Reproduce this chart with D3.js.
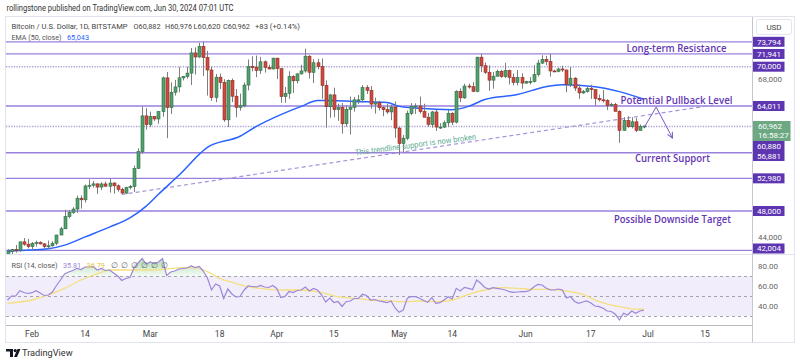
<!DOCTYPE html>
<html><head><meta charset="utf-8">
<script src="https://cdn.jsdelivr.net/npm/d3@7"></script>
<style>body{margin:0;background:#fff;} svg{display:block;font-family:Roboto,"Open Sans",sans-serif;}</style>
</head><body><svg id="c" width="800" height="364"></svg>
<script>
// ---------------- DATA ----------------
const firstDay = "2024-01-26", lastDay = "2024-07-01";
const opens = [39950,41820,42120,42030,43300,42940,
42580,43080,43190,42990,42580,42700,43090,44340,45290,47140,47770,48300,49950,49710,51820,51930,52140,51650,52130,51780,52270,51850,51300,50740,51570,51730,54490,57050,62500,
61170,62420,62030,63150,68300,63780,66100,66920,68300,68490,69020,72100,71480,73090,71390,69500,65300,68400,67600,61900,67900,65500,63800,64050,67200,70000,69950,69450,70750,69900,69650,
71300,69700,65450,65950,68500,67850,68900,69350,71600,69150,70600,70000,67150,63900,65700,63450,63800,61300,63500,63800,64950,64950,66800,66400,64300,64500,63750,63450,63100,63850,
60650,58300,59100,62900,63900,64000,63150,62300,61200,63100,60800,60800,61450,62900,61550,66250,65250,67050,66950,66250,71450,70150,69150,67950,68550,69300,68500,69400,68350,67600,68350,
67500,67750,67750,68800,70550,71100,70800,69350,69300,69650,69500,67300,68250,66750,66000,66200,66650,66500,65150,64950,64850,64100,64250,63200,60300,61800,60850,61600,60300,60882];
const highs = [42200,42200,42830,43310,43880,43740,
43280,43480,43380,43120,43500,43400,44380,45600,48200,48150,48590,50370,50380,52040,52820,52570,52180,52380,52490,52980,52380,52050,51550,51700,51960,54930,57550,63900,63680,
63150,62450,63250,68500,69200,67600,67980,69950,68600,69980,72850,72950,73660,73794,72400,70000,68900,68950,68100,68050,68200,66600,65900,67600,71100,71600,71700,71500,70950,70300,71350,
71350,69700,66900,69300,68700,69000,70300,72750,71750,71150,71200,71250,67900,65800,66800,64350,64450,64100,65450,65400,65700,67200,67200,67050,65300,64800,63950,64350,64200,64700,
60800,59600,63300,64450,64400,65450,64350,62950,63250,63400,61400,61800,63400,63050,66400,66700,67400,67400,67650,71500,71950,70650,70200,69200,69550,69500,70600,69550,68950,69500,69000,
67850,68400,70250,71050,71750,71650,71950,69550,69850,70150,69550,69950,68400,67300,66450,66950,67250,66550,65750,66450,65050,64500,64500,63350,62300,62450,62300,62200,61200,60976];
const lows = [39800,41400,41650,41800,42700,42300,
41880,42580,42880,42270,42260,42570,42790,44330,45250,46900,47560,47700,48370,49300,51340,51580,50620,51200,51700,50800,50650,50950,50520,50590,51300,50900,54450,56700,60400,
60800,61700,61300,62380,59100,62800,65600,66100,67900,68170,67200,68800,71350,68600,65600,64800,64580,66600,61600,60800,64600,62300,63300,63800,66400,69300,68400,68900,69100,69600,69600,
68100,64500,64500,65100,66000,67450,68800,69100,68200,67500,69600,65100,60700,62200,62300,61750,59800,60850,59650,63150,64300,64550,65850,63600,62850,63350,62450,62800,61850,59150,
56550,56950,58800,62600,62800,62850,62300,60850,60700,60200,60500,60650,60800,61100,61350,64600,65100,66650,66150,66100,69200,68900,66350,66650,68500,68300,68250,67300,67150,67150,66650,
67400,67300,67600,68500,70400,70200,68500,69200,69150,69200,66100,66900,66300,65100,65850,66050,65100,64100,64700,64550,63400,63950,63200,58400,60250,60700,60600,60050,60300,60620];
const closes = [41820,42120,42030,43300,42940,42580,
43080,43190,42990,42580,42700,43090,44340,45290,47140,47770,48300,49950,49710,51820,51930,52140,51650,52130,51780,52270,51850,51300,50740,51570,51730,54490,57050,62500,61170,
62420,62030,63150,68300,63780,66100,66920,68300,68490,69020,72100,71480,73090,71390,69500,65300,68400,67600,61900,67900,65500,63800,64050,67200,70000,69950,69450,70750,69900,69650,71300,
69700,65450,65950,68500,67850,68900,69350,71600,69150,70600,70000,67150,63900,65700,63450,63800,61300,63500,63800,64950,64950,66800,66400,64300,64500,63750,63450,63100,63850,60650,
58300,59100,62900,63900,64000,63150,62300,61200,63100,60800,60800,61450,62900,61550,66250,65250,67050,66950,66250,71450,70150,69150,67950,68550,69300,68500,69400,68350,67600,68350,67500,
67750,67750,68800,70550,71100,70800,69350,69300,69650,69500,67300,68250,66750,66000,66200,66650,66500,65150,64950,64850,64100,64250,63200,60300,61800,60850,61600,60300,60880,60962];
const rsiValues = [46,50,50,55.3,53.5,52.5,
53.3,55.3,53,50.5,51,54,60.5,66,72,74,75.5,77.7,76.5,79,79,79.3,76,77.5,75.5,76,73,70,65.5,67.5,68.5,78,83,87.5,82,
84,82.5,84,87.5,70.5,74,75,77,77.5,78,80,78.5,79.5,75,68,56,62,60,47.5,57,52,49,49.5,56,60,59.5,59,60.5,59,58.5,60.5,
57.5,48.5,49.5,54.5,53.5,55.5,56,59,55,57.5,56,51,44,48,43.5,44.5,39.5,44.3,45,47.5,47.5,51.7,50.5,46,46.5,45,44.3,43.3,45,38,
33.7,36,47.7,49.5,49.3,47.7,45.5,43.7,48.3,42.7,43.3,46,49.3,47,57.7,55,58.7,57.7,56.5,66,62.7,58.5,57,58.3,57.7,57,56,54.3,53.7,54,54.3,
54.3,55.5,59,61.7,61,58,56,56,57,56,48,49.5,44.5,42.7,44,45,43,40,39.3,37.7,35,34.5,31.7,26,32.7,31,35,32.7,35,35.81];
const rsiMaDates = ["2024-01-26","2024-02-01","2024-02-05","2024-02-09","2024-02-13","2024-02-18","2024-02-20","2024-02-26","2024-03-01","2024-03-05","2024-03-09","2024-03-12","2024-03-15","2024-03-18","2024-03-21","2024-03-25","2024-03-30","2024-04-03","2024-04-07","2024-04-11","2024-04-16","2024-04-20","2024-04-24","2024-04-28","2024-05-02","2024-05-06","2024-05-10","2024-05-14","2024-05-18","2024-05-22","2024-05-26","2024-05-30","2024-06-03","2024-06-07","2024-06-11","2024-06-15","2024-06-19","2024-06-24","2024-06-28","2024-06-30"];
const rsiMaValues = [42.7,46,51,57.7,66,73.7,76,76,76,77,78.3,78.3,74.3,67.7,63.7,59.3,56.7,56,56,54.3,49.3,47.7,46,45.3,44.3,45,44.3,46,51.7,56,58.3,57.7,56.7,56.7,55,51.7,44.3,39.3,36.7,36.79];
const emaDates = ["2024-01-26","2024-02-05","2024-02-09","2024-02-14","2024-02-20","2024-02-25","2024-02-29","2024-03-03","2024-03-08","2024-03-15","2024-03-23","2024-03-27","2024-04-02","2024-04-07","2024-04-11","2024-04-14","2024-04-20","2024-04-28","2024-05-01","2024-05-06","2024-05-14","2024-05-18","2024-05-22","2024-05-30","2024-06-06","2024-06-10","2024-06-18","2024-06-24","2024-06-30"];
const emaValues = [41900,42250,42800,44050,45550,46950,48750,50550,53450,57700,59400,60900,62700,63950,64850,64850,64700,64550,63950,63650,63450,63950,65000,65750,66950,67250,66950,66200,65043];
const levelPrices = [73794,71941,64011,56881,52980,48000,42004];
const dottedPrices = [70000,60880];
const axisLevelLabels = [73794,71941,70000,64011,60880,56881,52980,48000,42004];
const lastPrice = 60962, countdown = "16:58:27";
const priceTicks = [44000,48000,52000,56000,60000,64000,68000,72000,76000];
const rsiTicks = [40,60,80];
const rsiGuides = [70,50,30];
const timeTickDates = ["2024-02-01","2024-02-14","2024-03-01","2024-03-18","2024-04-01","2024-04-15","2024-05-01","2024-05-14","2024-06-01","2024-06-17","2024-07-01","2024-07-15"];
const timeTickLabels = ["Feb","14","Mar","18","Apr","15","May","14","Jun","17","Jul","15"];
const trendDates = ["2024-02-23","2024-07-17"], trendPrices = [50520,64150];
const arrowDates = ["2024-06-30","2024-07-03","2024-07-07"], arrowPrices = [60655,63856,59131];
const notes = [
  {text:"Long-term Resistance", date:"2024-07-08", price:72867, len:100},
  {text:"Potential Pullback Level", date:"2024-07-08", price:64923, len:112},
  {text:"Current Support", date:"2024-07-07", price:56082, len:75},
  {text:"Possible Downside Target", date:"2024-07-07", price:46737, len:117}
];
const brokenNote = {text:"This trendline support is now broken", date:"2024-05-05", price:58140, len:122, angle:-7.5};

// ---------------- SETUP ----------------
const P = d3.utcParse("%Y-%m-%d");
const days = d3.utcDay.range(P(firstDay), P(lastDay));
const candles = days.map((d,i)=>({d, o:opens[i], h:highs[i], l:lows[i], c:closes[i]}));
const svg = d3.select("#c");
const L=6, R=752, PT=17, PB=253, RT=255, RB=325;
const x = d3.scaleUtc().domain([P("2024-02-01"), P("2024-07-01")]).range([32, 648]);
const yP = d3.scaleLinear().domain([41600, 77576]).range([PB, PT]);
const yR = d3.scaleLinear().domain([21, 91]).range([RB, RT]);
const fmt = d3.format(",");

const defs = svg.append("defs");
defs.append("clipPath").attr("id","cm").append("rect").attr("x",L).attr("y",PT).attr("width",R-L).attr("height",PB-PT+1);
defs.append("clipPath").attr("id","cr").append("rect").attr("x",L).attr("y",RT).attr("width",R-L).attr("height",RB-RT);
const g1 = defs.append("linearGradient").attr("id","ob").attr("x1",0).attr("x2",0).attr("gradientUnits","userSpaceOnUse")
  .attr("y1",yR(88)).attr("y2",yR(70));
g1.append("stop").attr("offset","0").attr("stop-color","#4caf50").attr("stop-opacity",0.45);
g1.append("stop").attr("offset","1").attr("stop-color","#4caf50").attr("stop-opacity",0.06);
defs.append("marker").attr("id","ah").attr("viewBox","0 0 10 10").attr("refX",9).attr("refY",5)
  .attr("markerWidth",7).attr("markerHeight",7).attr("orient","auto")
  .append("path").attr("d","M1,1 L9,5 L1,9").attr("fill","none").attr("stroke","#7e57c2").attr("stroke-width",1.4);

// header
svg.append("text").attr("x",6.5).attr("y",11).attr("font-size",8.4).attr("fill","#333")
  .attr("textLength",227).attr("lengthAdjust","spacingAndGlyphs")
  .text("rollingstone published on TradingView.com, Jun 30, 2024 07:01 UTC");

// frame
svg.append("rect").attr("x",5.5).attr("y",16.5).attr("width",789).attr("height",326).attr("fill","none").attr("stroke","#e0e3eb");

// ---------------- MAIN PANE ----------------
const main = svg.append("g").attr("clip-path","url(#cm)");
main.selectAll(".lvl").data(levelPrices).join("line").attr("x1",L).attr("x2",R)
  .attr("y1",d=>yP(d)).attr("y2",d=>yP(d)).attr("stroke","#9a7fdc").attr("stroke-width",1.3);
main.selectAll(".dot").data(dottedPrices).join("line").attr("x1",L).attr("x2",R)
  .attr("y1",d=>yP(d)).attr("y2",d=>yP(d)).attr("stroke","#aea3d6").attr("stroke-width",1.5).attr("stroke-dasharray","1.3,1.3");
main.append("line").attr("x1",x(P(trendDates[0]))).attr("y1",yP(trendPrices[0]))
  .attr("x2",x(P(trendDates[1]))).attr("y2",yP(trendPrices[1]))
  .attr("stroke","#a592dc").attr("stroke-width",1.2).attr("stroke-dasharray","4,3");
main.append("path").datum(emaDates.map((d,i)=>[P(d),emaValues[i]]))
  .attr("d",d3.line().x(d=>x(d[0])).y(d=>yP(d[1])).curve(d3.curveMonotoneX))
  .attr("fill","none").attr("stroke","#2962ff").attr("stroke-width",1.5);
const cg = main.append("g");
cg.selectAll("line").data(candles).join("line")
  .attr("x1",d=>Math.round(x(d.d))+0.5).attr("x2",d=>Math.round(x(d.d))+0.5)
  .attr("y1",d=>yP(d.h)).attr("y2",d=>yP(d.l)).attr("stroke","#7d7d7d").attr("stroke-width",1);
cg.selectAll("rect").data(candles).join("rect")
  .attr("x",d=>Math.round(x(d.d))-1).attr("width",3)
  .attr("y",d=>yP(Math.max(d.o,d.c))).attr("height",d=>Math.max(1,Math.abs(yP(d.o)-yP(d.c))))
  .attr("fill",d=>d.c>=d.o?"#52a06c":"#cf4a3e")
  .attr("stroke",d=>d.c>=d.o?"#2c6d44":"#8e2b22").attr("stroke-width",0.6);
main.append("path").datum(arrowDates.map((d,i)=>[P(d),arrowPrices[i]]))
  .attr("d",d3.line().x(d=>x(d[0])).y(d=>yP(d[1])))
  .attr("fill","none").attr("stroke","#7e57c2").attr("stroke-width",1).attr("marker-end","url(#ah)");
notes.forEach(n=>{
  main.append("text").attr("x",x(P(n.date))).attr("y",yP(n.price)).attr("text-anchor","middle")
    .attr("dominant-baseline","central").attr("font-size",10.5).attr("font-weight",600)
    .attr("font-family","'Open Sans',sans-serif").attr("fill","#6437b3")
    .attr("textLength",n.len).attr("lengthAdjust","spacingAndGlyphs").text(n.text);
});
{
  const bx = x(P(brokenNote.date)), by = yP(brokenNote.price);
  main.append("text").attr("transform",`translate(${bx},${by}) rotate(${brokenNote.angle})`)
    .attr("text-anchor","middle").attr("dominant-baseline","central").attr("font-size",8.2)
    .attr("fill","#62ad95").attr("textLength",brokenNote.len).attr("lengthAdjust","spacingAndGlyphs")
    .text(brokenNote.text);
}

// legend (explicit widths so parts never collide)
const lg = svg.append("g").attr("font-size",8);
function part(px, py, w, txt, col){ lg.append("text").attr("x",px).attr("y",py).attr("fill",col)
  .attr("textLength",w).attr("lengthAdjust","spacingAndGlyphs").text(txt); }
part(11.5, 28.5, 116, "Bitcoin / U.S. Dollar, 1D, BITSTAMP", "#444");
const ohlc = [["O",opens[opens.length-1],133.5],["H",highs[highs.length-1],165],["L",lows[lows.length-1],193.5],["C",closes[closes.length-1],223]];
ohlc.forEach(([k,v,px])=>part(px, 28.5, 27, k+fmt(v), "#444"));
part(255, 28.5, 45, "+83 (+0.14%)", "#444");
part(11.5, 39.5, 50, "EMA (50, close)", "#555");
part(67, 39.5, 22, fmt(emaValues[emaValues.length-1]), "#2962ff");

// ---------------- RSI PANE ----------------
svg.append("line").attr("x1",L).attr("x2",794).attr("y1",254.5).attr("y2",254.5).attr("stroke","#e0e3eb");
const rp = svg.append("g").attr("clip-path","url(#cr)");
rp.append("rect").attr("x",L).attr("width",R-L).attr("y",yR(70)).attr("height",yR(30)-yR(70)).attr("fill","#f1edfa");
rp.selectAll(".g").data(rsiGuides).join("line").attr("x1",L).attr("x2",R)
  .attr("y1",d=>yR(d)+0.5).attr("y2",d=>yR(d)+0.5).attr("stroke","#a3a3ab").attr("stroke-dasharray","3,3");
const rdata = days.map((d,i)=>[d,rsiValues[i]]);
rp.append("path").datum(rdata)
  .attr("d",d3.area().x(d=>x(d[0])).y0(yR(70)).y1(d=>yR(Math.max(70,d[1]))))
  .attr("fill","url(#ob)");
rp.append("path").datum(rsiMaDates.map((d,i)=>[P(d),rsiMaValues[i]]))
  .attr("d",d3.line().x(d=>x(d[0])).y(d=>yR(d[1])).curve(d3.curveMonotoneX))
  .attr("fill","none").attr("stroke","#f5df7f").attr("stroke-width",1.3);
rp.append("path").datum(rdata)
  .attr("d",d3.line().x(d=>x(d[0])).y(d=>yR(d[1])))
  .attr("fill","none").attr("stroke","#9d86d9").attr("stroke-width",1.2);
const rl = svg.append("g").attr("font-size",8);
function rpart(px, w, txt, col){ rl.append("text").attr("x",px).attr("y",267.5).attr("fill",col)
  .attr("textLength",w).attr("lengthAdjust","spacingAndGlyphs").text(txt); }
rpart(11.5, 46, "RSI (14, close)", "#555");
rpart(63, 18, rsiValues[rsiValues.length-1].toFixed(2), "#9d86d9");
rpart(86.5, 18.5, rsiMaValues[rsiMaValues.length-1].toFixed(2), "#e3c443");
[110.5,120.5,130.5,140.5,150.5,160.5].forEach(px=>rl.append("text").attr("x",px).attr("y",267.5).attr("fill","#666").text("∅"));

// time axis
svg.append("line").attr("x1",L).attr("x2",R).attr("y1",325.5).attr("y2",325.5).attr("stroke","#b8bac2").attr("stroke-width",1.2);
svg.append("g").selectAll("text").data(timeTickDates).join("text")
  .attr("x",d=>x(P(d))).attr("y",336.5).attr("text-anchor","middle").attr("font-size",8.5).attr("fill","#444")
  .text((d,i)=>timeTickLabels[i]);

// ---------------- PRICE AXIS ----------------
svg.append("line").attr("x1",752.5).attr("x2",752.5).attr("y1",17).attr("y2",342).attr("stroke","#c5c7ce");
const ax = svg.append("g").attr("font-size",8);
// label stacking for colored price labels
const items = axisLevelLabels.map(p=>({p, top:yP(p)-5, h:10, kind:"lvl"}));
items.push({p:lastPrice, top:yP(lastPrice)-5, h:20, kind:"cur"});
items.sort((a,b)=>a.top-b.top);
let bottom = -Infinity;
items.forEach(it=>{ if(it.top<bottom) it.top=bottom; bottom=it.top+it.h; });
let limit = PB+0.5;
for(let i=items.length-1;i>=0;i--){ const it=items[i]; if(it.top+it.h>limit) it.top=limit-it.h; limit=it.top; }
// occupied bands: labels and the USD box hide the gray ticks beneath them
const occupied = items.map(it=>[it.top, it.top+it.h]).concat([[19.5,34.5]]);
const visibleTicks = priceTicks.filter(p=>{ const c=yP(p); return !occupied.some(([a,b])=>c+3.5>a && c-3.5<b); });
ax.selectAll(".pt").data(visibleTicks).join("text").attr("x",758).attr("y",d=>yP(d)).attr("dominant-baseline","central")
  .attr("fill","#666").text(d=>fmt(d));
ax.selectAll(".rt").data(rsiTicks).join("text").attr("x",758).attr("y",d=>yR(d)).attr("dominant-baseline","central")
  .attr("fill","#666").text(d=>d.toFixed(2));
ax.append("rect").attr("x",756.5).attr("y",19.5).attr("width",35).attr("height",15).attr("rx",2).attr("fill","#fff").attr("stroke","#e3e5ea");
ax.append("text").attr("x",774).attr("y",27.5).attr("text-anchor","middle").attr("dominant-baseline","central").attr("fill","#444").text("USD");
items.forEach(it=>{
  if(it.kind==="lvl"){
    ax.append("rect").attr("x",753).attr("y",it.top).attr("width",31.5).attr("height",it.h).attr("fill","#5e35b1");
    ax.append("text").attr("x",757).attr("y",it.top+it.h/2+0.3).attr("dominant-baseline","central").attr("fill","#fff").text(fmt(it.p));
  } else {
    ax.append("rect").attr("x",753).attr("y",it.top).attr("width",37.5).attr("height",it.h).attr("fill","#6da883");
    ax.append("text").attr("x",758).attr("y",it.top+5.3).attr("dominant-baseline","central").attr("fill","#fff").text(fmt(it.p));
    ax.append("text").attr("x",758).attr("y",it.top+14.8).attr("dominant-baseline","central").attr("fill","#fff").text(countdown);
  }
});

// footer logo
const fl = svg.append("g").attr("fill","#131722");
fl.append("path").attr("d","M6,349 h7 v8 h-3 v-5.5 h-4 z");
fl.append("circle").attr("cx",15.2).attr("cy",350.6).attr("r",1.6);
fl.append("path").attr("d","M17.5,349 h3 l-3.5,8 h-3 z");
svg.append("text").attr("x",22).attr("y",355.5).attr("font-size",9.2).attr("fill","#333").text("TradingView");
</script></body></html>
